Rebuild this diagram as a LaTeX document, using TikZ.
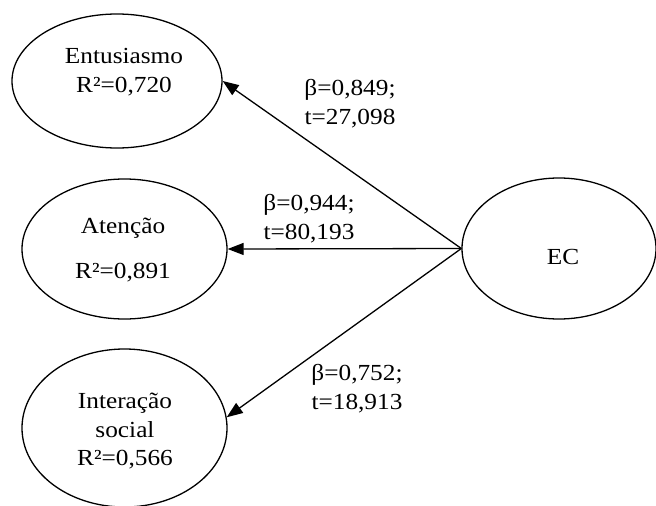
\documentclass[tikz,border=0pt]{standalone}
\usepackage{fontspec}
\setmainfont{Liberation Serif}[FakeStretch=1.1]
\usetikzlibrary{shapes.geometric,arrows.meta}
\begin{document}
\begin{tikzpicture}[x=1pt,y=-1pt,
  oval/.style={draw,ellipse,line width=1.3pt,inner sep=0pt},
  txt/.style={inner sep=0pt,align=center,font=\fontsize{23}{28.5}\selectfont},
  path/.style={draw,line width=1.3pt,-{Triangle[length=16pt,width=12pt]}}]
\useasboundingbox (0,0) rectangle (656,506);
% ellipses
\node[oval,minimum width=210pt,minimum height=134pt] (ent) at (117,81) {};
\node[oval,minimum width=205pt,minimum height=140pt] (att) at (124.5,249) {};
\node[oval,minimum width=205pt,minimum height=158pt] (int) at (124.5,428) {};
\node[oval,minimum width=194pt,minimum height=141pt] (ec) at (559,248.5) {};
% texts
\node[txt] (tent) at (124,72) {Entusiasmo\\R²=0,720};
\node[txt] (tatt) at (123,250.5) {Atenção\\[16.5pt]R²=0,891};
\node[txt] (tint) at (125,431.5) {Interação\\social\\R²=0,566};
\node[txt] (tec) at (563,257) {EC};
% arrows
\draw[path] (ec.west) -- (ent.east);
\draw[path] (ec.west) -- (att.east);
\draw[path] (ec.west) -- (int.6);
% labels
\node[txt] (l1) at (350,103.5) {β=0,849;\\t=27,098};
\node[txt] (l2) at (309,218.5) {β=0,944;\\t=80,193};
\node[txt] (l3) at (357,388.5) {β=0,752;\\t=18,913};
\end{tikzpicture}
\end{document}
